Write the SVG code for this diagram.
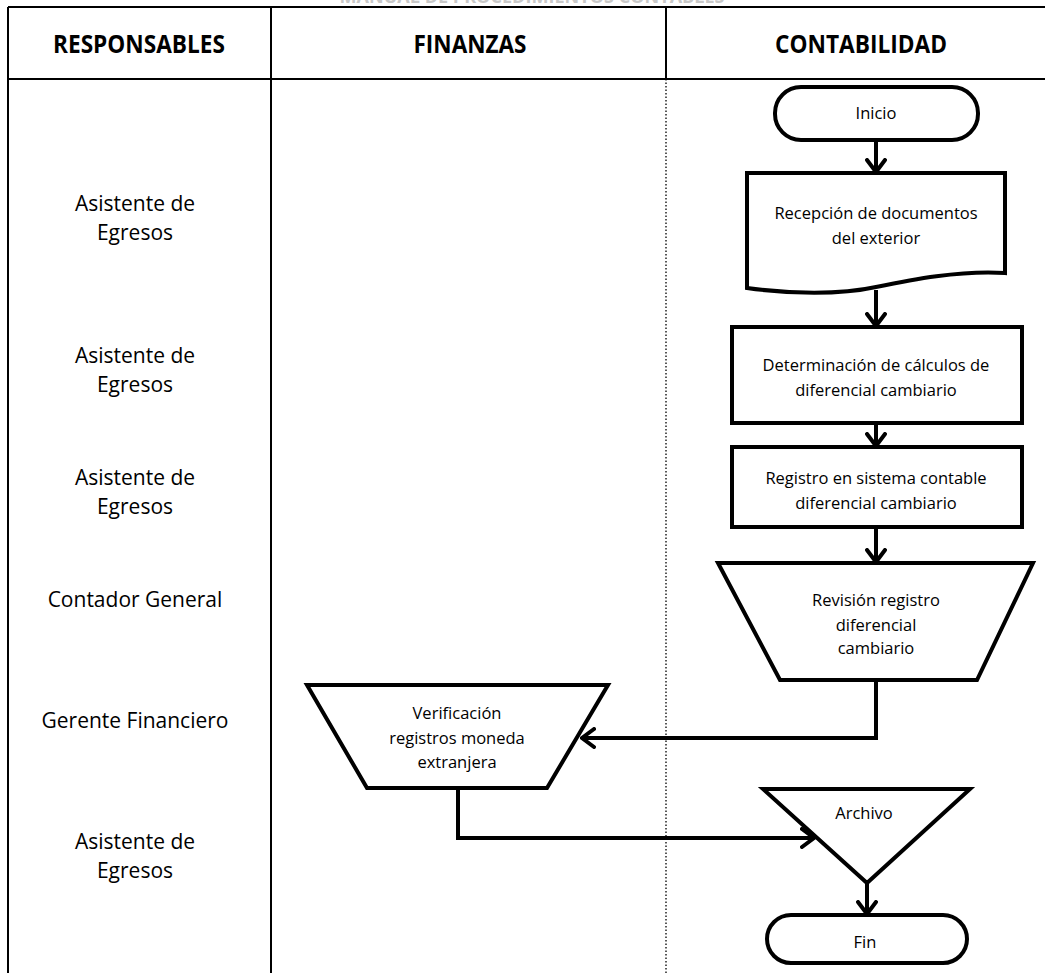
<svg xmlns="http://www.w3.org/2000/svg" width="1045" height="973" viewBox="0 0 1045 973">
  <defs>
    <style>
      .grid { stroke: #000; stroke-width: 2; fill: none; }
      .dotted { stroke: #000; stroke-width: 1.3; stroke-dasharray: 1.5 2; fill: none; }
      .shape { fill: #fff; stroke: #000; stroke-width: 4; stroke-linejoin: miter; }
      .wire { fill: none; stroke: #000; stroke-width: 4; }
      .head { font-family: "Open Sans", "Noto Sans", sans-serif; font-weight: bold; font-size: 25px; fill: #000; text-anchor: middle; }
      .role { font-family: "Open Sans", "Noto Sans", sans-serif; font-size: 21px; fill: #000; text-anchor: middle; }
      .lbl { font-family: "Open Sans", "Noto Sans", sans-serif; font-size: 16.5px; fill: #000; text-anchor: middle; }
      .title { font-family: "Open Sans", "Noto Sans", sans-serif; font-weight: bold; font-size: 18px; fill: #c8c8c8; text-anchor: middle; }
    </style>
    <marker id="arrow" viewBox="0 0 16 22" refX="14" refY="11" markerWidth="16" markerHeight="22" markerUnits="userSpaceOnUse" orient="auto">
      <path d="M2,2 L14,11 L2,20" fill="none" stroke="#000" stroke-width="4" stroke-linecap="round" stroke-linejoin="miter"/>
    </marker>
  </defs>

  <rect width="1045" height="973" fill="#fff"/>

  <!-- page title, cut off at the top edge -->
  <text class="title" x="532" y="3" textLength="385" lengthAdjust="spacingAndGlyphs">MANUAL DE PROCEDIMIENTOS CONTABLES</text>

  <!-- table frame and swimlane dividers -->
  <g id="table">
    <path class="grid" d="M8,7 H1045"/>
    <path class="grid" d="M8,79 H1045" stroke-width="2.5"/>
    <path class="grid" d="M8,7 V973"/>
    <path class="grid" d="M271,7 V973"/>
    <path class="grid" d="M666,7 V79"/>
    <path class="dotted" d="M666,79 V973"/>
  </g>

  <!-- column headers -->
  <g id="headers">
    <text class="head" x="139" y="53" textLength="172" lengthAdjust="spacingAndGlyphs">RESPONSABLES</text>
    <text class="head" x="470" y="53" textLength="113" lengthAdjust="spacingAndGlyphs">FINANZAS</text>
    <text class="head" x="861" y="53" textLength="172" lengthAdjust="spacingAndGlyphs">CONTABILIDAD</text>
  </g>

  <!-- responsible roles per step -->
  <g id="roles">
    <text class="role" x="135" y="211">Asistente de</text>
    <text class="role" x="135" y="240">Egresos</text>
    <text class="role" x="135" y="363">Asistente de</text>
    <text class="role" x="135" y="392">Egresos</text>
    <text class="role" x="135" y="485">Asistente de</text>
    <text class="role" x="135" y="514">Egresos</text>
    <text class="role" x="135" y="607">Contador General</text>
    <text class="role" x="135" y="728">Gerente Financiero</text>
    <text class="role" x="135" y="849">Asistente de</text>
    <text class="role" x="135" y="878">Egresos</text>
  </g>

  <!-- connectors -->
  <g id="connectors">
    <path class="wire" d="M876,140 V172" marker-end="url(#arrow)"/>
    <path class="wire" d="M876,290 V326" marker-end="url(#arrow)"/>
    <path class="wire" d="M876,423 V446" marker-end="url(#arrow)"/>
    <path class="wire" d="M876,527 V562" marker-end="url(#arrow)"/>
    <path class="wire" d="M876,680 V738 H582" marker-end="url(#arrow)"/>
    <path class="wire" d="M458,788 V838 H814" marker-end="url(#arrow)"/>
    <path class="wire" d="M867,883 V914" marker-end="url(#arrow)"/>
  </g>

  <!-- flow steps -->
  <g id="inicio">
    <rect class="shape" x="775" y="87" width="203" height="53" rx="26"/>
    <text class="lbl" x="876" y="119">Inicio</text>
  </g>

  <g id="recepcion">
    <path class="shape" d="M747,173 H1005 V273 C960,270 910,280 876,287 C840,295 790,294 747,288 Z"/>
    <text class="lbl" x="876" y="219">Recepción de documentos</text>
    <text class="lbl" x="876" y="244">del exterior</text>
  </g>

  <g id="determinacion">
    <rect class="shape" x="732" y="327" width="290" height="96"/>
    <text class="lbl" x="876" y="371">Determinación de cálculos de</text>
    <text class="lbl" x="876" y="396">diferencial cambiario</text>
  </g>

  <g id="registro">
    <rect class="shape" x="732" y="447" width="290" height="80"/>
    <text class="lbl" x="876" y="484">Registro en sistema  contable</text>
    <text class="lbl" x="876" y="509">diferencial cambiario</text>
  </g>

  <g id="revision">
    <path class="shape" d="M718,563 L1033,563 L977,680 L780,680 Z"/>
    <text class="lbl" x="876" y="606">Revisión registro</text>
    <text class="lbl" x="876" y="631">diferencial</text>
    <text class="lbl" x="876" y="654">cambiario</text>
  </g>

  <g id="verificacion">
    <path class="shape" d="M307,685 L608,685 L547,788 L367,788 Z"/>
    <text class="lbl" x="457" y="719">Verificación</text>
    <text class="lbl" x="457" y="744">registros moneda</text>
    <text class="lbl" x="457" y="768">extranjera</text>
  </g>

  <g id="archivo">
    <path class="shape" d="M763,789 L970,789 L867,883 Z"/>
    <text class="lbl" x="864" y="819">Archivo</text>
  </g>

  <g id="fin">
    <rect class="shape" x="767" y="915" width="200" height="48" rx="24"/>
    <text class="lbl" x="865" y="948">Fin</text>
  </g>
</svg>
